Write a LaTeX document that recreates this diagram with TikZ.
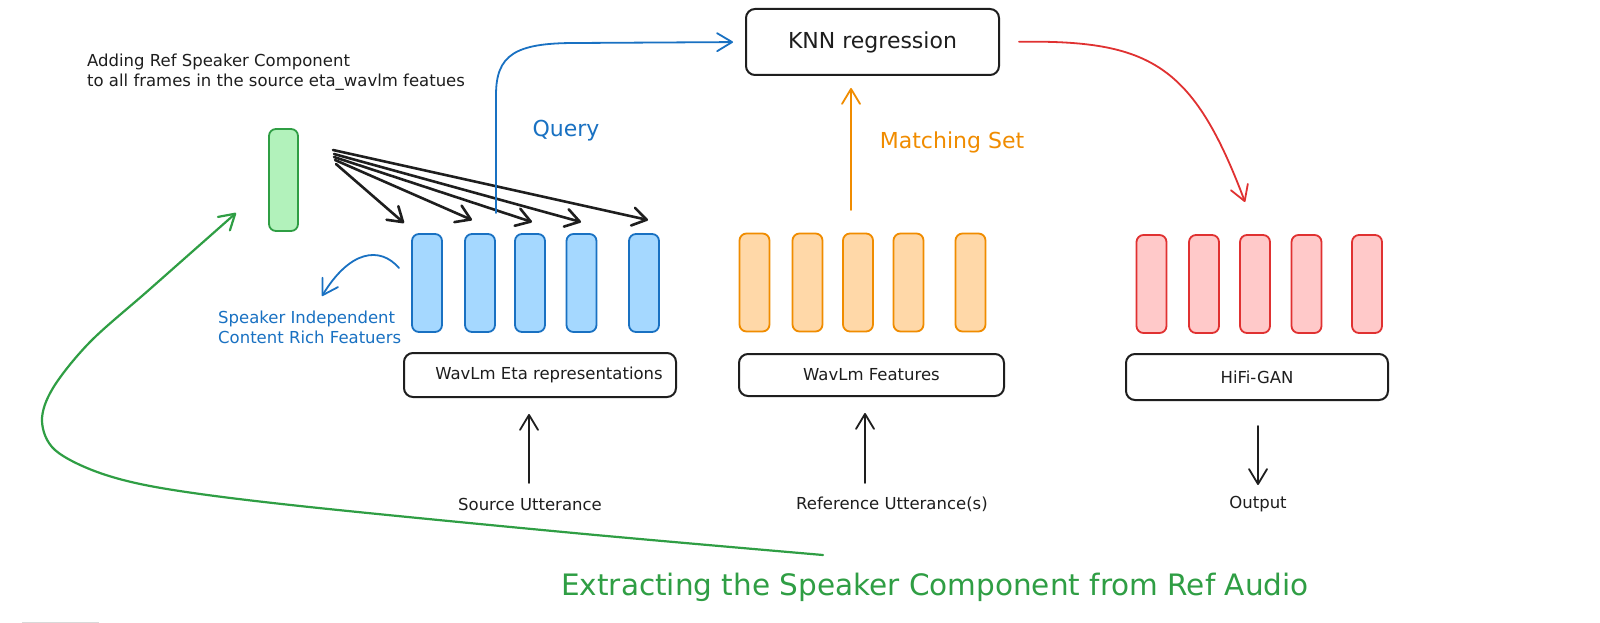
\documentclass[tikz,border=0pt]{standalone}
\usepackage{fontspec}
\setmainfont{DejaVu Sans}
\usetikzlibrary{arrows.meta}
\definecolor{ink}{HTML}{1E1E1E}
\definecolor{bluestroke}{HTML}{1971C2}
\definecolor{bluefill}{HTML}{A5D8FF}
\definecolor{orangestroke}{HTML}{F08C00}
\definecolor{orangefill}{HTML}{FFD8A8}
\definecolor{redstroke}{HTML}{E03131}
\definecolor{redfill}{HTML}{FFC9C9}
\definecolor{greenstroke}{HTML}{2F9E44}
\definecolor{greenfill}{HTML}{B2F2BB}
\newcommand\myfs{\fontsize{16.5pt}{20.5pt}\selectfont}
\newcommand\myfm{\fontsize{22pt}{26pt}\selectfont}
\newcommand\myfl{\fontsize{29.5pt}{34pt}\selectfont}
\tikzset{
  bar/.style={line width=1.8pt, rounded corners=7pt, minimum width=30pt, minimum height=98pt, inner sep=0pt},
  bluebar/.style={bar, draw=bluestroke, fill=bluefill},
  orangebar/.style={bar, draw=orangestroke, fill=orangefill},
  redbar/.style={bar, draw=redstroke, fill=redfill},
  greenbar/.style={bar, draw=greenstroke, fill=greenfill, minimum width=29pt, minimum height=102pt},
  box/.style={draw=ink, line width=2pt, rounded corners=9pt, inner sep=0pt, text=ink, font=\myfs},
  lbl/.style={inner sep=0pt, text=ink, font=\myfs},
  tip/.style={-{Straight Barb[length=15pt,width=18pt,round]}},
  arr/.style={tip, draw=ink, line width=1.8pt, line cap=round},
  fanarr/.style={-{Straight Barb[length=14pt,width=18pt,round]}, draw=ink, line width=2.6pt, line cap=round},
  bluearr/.style={tip, draw=bluestroke, line width=1.8pt, line cap=round},
  orangearr/.style={tip, draw=orangestroke, line width=1.8pt, line cap=round},
  redarr/.style={tip, draw=redstroke, line width=1.8pt, line cap=round},
  greenarr/.style={tip, draw=greenstroke, line width=2.2pt, line cap=round},
  gapend/.style={shorten >=#1},
  gapstart/.style={shorten <=#1}
}
\begin{document}
\begin{tikzpicture}[x=1pt,y=-1pt]
\fill[white] (0,0) rectangle (1600,623);
\useasboundingbox (0,0) rectangle (1600,623);

% annotation text
\node[lbl, anchor=west, align=left] (note) at (87,72)
  {Adding Ref Speaker Component\\to all frames in the source eta\_wavlm featues};

% speaker component bar
\node[greenbar] (spk) at (283.5,180) {};

% source features
\node[bluebar] (b1) at (427,283) {};
\node[bluebar] (b2) at (480,283) {};
\node[bluebar] (b3) at (530,283) {};
\node[bluebar] (b4) at (581.5,283) {};
\node[bluebar] (b5) at (644,283) {};

% reference features
\node[orangebar] (o1) at (754.5,282.5) {};
\node[orangebar] (o2) at (807.5,282.5) {};
\node[orangebar] (o3) at (858,282.5) {};
\node[orangebar] (o4) at (908.5,282.5) {};
\node[orangebar] (o5) at (970.5,282.5) {};

% output features
\node[redbar] (r1) at (1151.5,284) {};
\node[redbar] (r2) at (1204,284) {};
\node[redbar] (r3) at (1255,284) {};
\node[redbar] (r4) at (1306.5,284) {};
\node[redbar] (r5) at (1367,284) {};

% boxes
\node[box, font=\myfm, minimum width=253pt, minimum height=66pt] (knn) at (872.5,42) {KNN regression};
\node[box, minimum width=272pt, minimum height=44pt] (eta) at (540,375) {\hspace*{18pt}WavLm Eta representations};
\node[box, minimum width=265pt, minimum height=42pt] (wf) at (871.5,375) {WavLm Features};
\node[box, minimum width=262pt, minimum height=46pt] (hifi) at (1257,377) {HiFi-GAN};

% bottom labels
\node[lbl] (src) at (530,504) {Source Utterance};
\node[lbl] (ref) at (892,504) {Reference Utterance(s)};
\node[lbl] (out) at (1258,504) {Output};

% coloured labels
\node[lbl, font=\myfm, text=bluestroke] (query) at (566,131) {Query};
\node[lbl, font=\myfm, text=orangestroke] (match) at (952,142) {Matching Set};
\node[lbl, anchor=west, align=left, text=bluestroke] (sit) at (218,327.5)
  {Speaker Independent\\Content Rich Featuers};
\node[lbl, font=\myfl, text=greenstroke] (ext) at (935,587)
  {Extracting the Speaker Component from Ref Audio};

% input / output arrows
\coordinate (srcA) at (529,483);
\coordinate (refA) at (865,483);
\draw[arr, gapend=16pt] (srcA) -- (srcA |- eta.south);
\draw[arr, gapend=16pt] (refA) -- (refA |- wf.south);
\draw[arr, gapstart=25pt, gapend=11pt] (hifi.south -| out.north) -- (out.north);

% fan arrows from speaker component
\coordinate (f1) at (336,164);
\coordinate (f2) at (335,160);
\coordinate (f3) at (334,157);
\coordinate (f4) at (334,154);
\coordinate (f5) at (333,150);
\coordinate (t1) at (404,223);
\coordinate (t2) at (472,220);
\coordinate (t3) at (532,222);
\coordinate (t4) at (581,222);
\coordinate (t5) at (648,220);
\draw[fanarr] (f1) -- (t1);
\draw[fanarr] (f2) -- (t2);
\draw[fanarr] (f3) -- (t3);
\draw[fanarr] (f4) -- (t4);
\draw[fanarr] (f5) -- (t5);

% query arrow
\coordinate (qA) at (496,213);
\draw[bluearr, gapend=12pt] (qA) -- (496,95) .. controls (496,55) and (515,43) .. (575,43) -- (knn.west);

% matching set arrow
\coordinate (msA) at (851,210);
\draw[orangearr, gapend=12pt] (msA) -- (msA |- knn.south);

% knn to vocoder
\coordinate (rEnd) at (1245,202);
\draw[redarr, gapstart=19pt] (knn.east) .. controls (1150,40) and (1193,64) .. (rEnd);

% small blue arrow
\coordinate (sbA) at (399,268);
\coordinate (sbB) at (322,296);
\draw[bluearr] (sbA) .. controls (380,246) and (350,250) .. (sbB);

% green extraction arrow
\coordinate (gTail) at (823,555);
\coordinate (gHead) at (236,213);
\draw[greenarr] plot[smooth, tension=0.55] coordinates
  {(gTail) (574,533) (300,506) (167,489) (100,473) (55,450) (42,421) (53,388) (90,342) (150,289) (gHead)};

% faint mark at bottom edge
\draw[black!15, line width=1pt] (22,622) -- (99,622);
\end{tikzpicture}
\end{document}
